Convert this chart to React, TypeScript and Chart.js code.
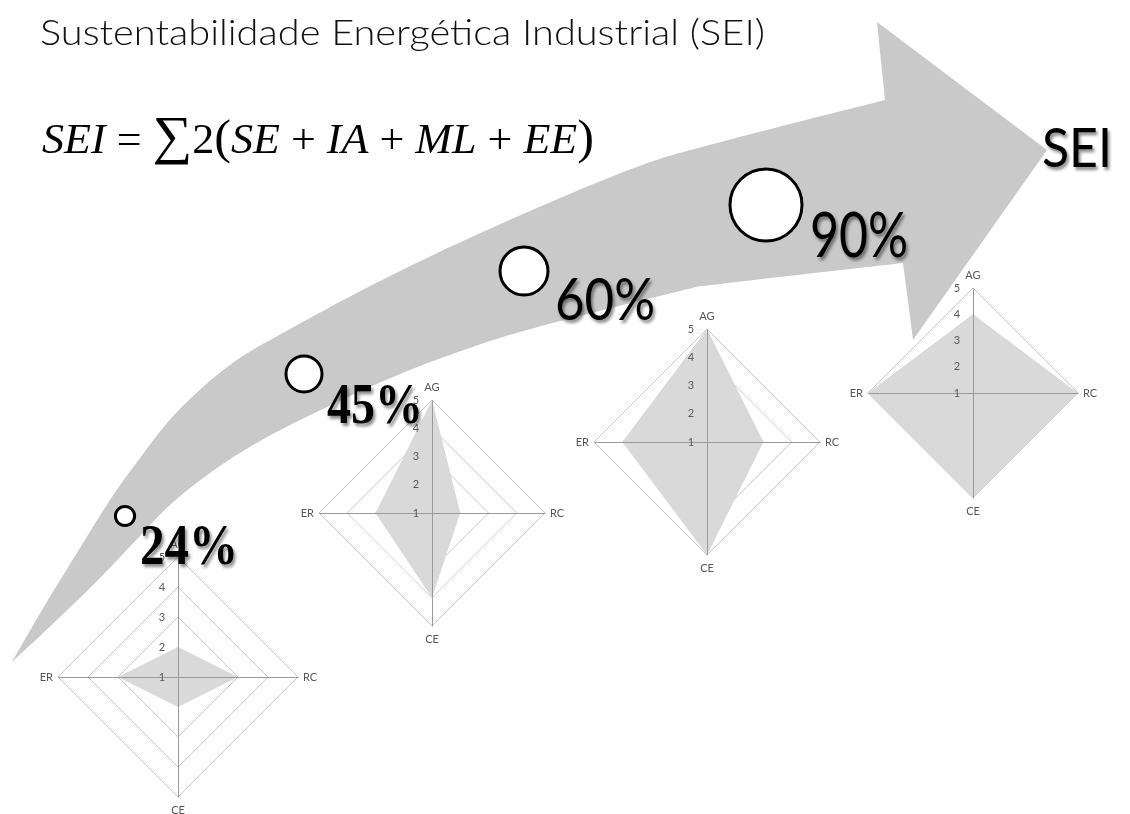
import React, { useEffect, useRef } from "react";
import { Chart, registerables } from "chart.js";

Chart.register(...registerables);

// ---------------- data ----------------
const AXIS_LABELS = ["AG", "RC", "CE", "ER"];
const TICK_VALUES = [1, 2, 3, 4, 5];
const STAGE_1 = [2, 3, 2, 3];
const STAGE_2 = [5, 2, 4, 3];
const STAGE_3 = [5, 3, 5, 4];
const STAGE_4 = [4, 5, 5, 5];
const STAGE_SERIES = [STAGE_1, STAGE_2, STAGE_3, STAGE_4];
const STAGE_PERCENT = [24, 45, 60, 90];
const TITLE = "Sustentabilidade Energética Industrial (SEI)";
const END_LABEL = "SEI";

// ---------------- layout & style ----------------
const W = 1130;
const H = 814;
const M = 30; // margin around each radar drawing area
const RADAR_BOX = [
  { cx: 178, cy: 677, r: 120 },
  { cx: 432, cy: 513, r: 113 },
  { cx: 707, cy: 442, r: 113 },
  { cx: 973, cy: 393, r: 105 },
];
const BUBBLE_AT = [
  { x: 125, y: 516 },
  { x: 304, y: 374 },
  { x: 524, y: 271 },
  { x: 766, y: 205 },
];
const PCT_TEXT = [
  { x: 140, y: 564, w: 98, size: 56, serif: true },
  { x: 327, y: 423, w: 96, size: 56, serif: true },
  { x: 555, y: 320, w: 100, size: 58, serif: false },
  { x: 810, y: 257, w: 98, size: 61, serif: false },
];
const ARROW_UPPER: number[][] = [
  [12, 662], [45, 605], [80, 548], [110, 500], [140, 458], [177, 412], [230, 365],
  [290, 329], [390, 276], [505, 222], [634, 168], [717, 143], [885, 100],
];
const ARROW_HEAD: number[][] = [[877, 22], [1047, 150], [913, 340]];
const ARROW_LOWER: number[][] = [
  [903, 263], [720, 284], [680, 291], [527, 330], [450, 355], [393, 377], [327, 407],
  [260, 441], [210, 473], [170, 505], [140, 536], [103, 575], [60, 617], [12, 662],
];

const ARROW_COLOR = "#c9c9c9";
const FILL_COLOR = "#d9d9d9";
const RING_COLOR = "#c8c8c8";
const AXIS_COLOR = "#9a9a9a";
const LABEL_COLOR = "#595959";
const SMALL_FONT = "11px Lato, 'Open Sans', sans-serif";

// Catmull-Rom smoothing through points
function smoothThrough(ctx: CanvasRenderingContext2D, pts: number[][], moveFirst: boolean) {
  if (moveFirst) ctx.moveTo(pts[0][0], pts[0][1]);
  else ctx.lineTo(pts[0][0], pts[0][1]);
  for (let i = 0; i < pts.length - 1; i++) {
    const p0 = pts[i - 1] || pts[i];
    const p1 = pts[i];
    const p2 = pts[i + 1];
    const p3 = pts[i + 2] || p2;
    const c1x = p1[0] + (p2[0] - p0[0]) / 6;
    const c1y = p1[1] + (p2[1] - p0[1]) / 6;
    const c2x = p2[0] - (p3[0] - p1[0]) / 6;
    const c2y = p2[1] - (p3[1] - p1[1]) / 6;
    ctx.bezierCurveTo(c1x, c1y, c2x, c2y, p2[0], p2[1]);
  }
}

const arrowPlugin = {
  id: "arrowBand",
  beforeDatasetsDraw(chart: any) {
    const ctx = chart.ctx as CanvasRenderingContext2D;
    const { x, y } = chart.scales;
    const P = (p: number[]) => [x.getPixelForValue(p[0]), y.getPixelForValue(p[1])];
    ctx.save();
    ctx.fillStyle = ARROW_COLOR;
    ctx.beginPath();
    smoothThrough(ctx, ARROW_UPPER.map(P), true);
    ARROW_HEAD.map(P).forEach((p) => ctx.lineTo(p[0], p[1]));
    smoothThrough(ctx, ARROW_LOWER.map(P), false);
    ctx.closePath();
    ctx.fill();
    ctx.restore();
  },
};

const radarDecor = {
  id: "radarDecor",
  afterDatasetsDraw(chart: any) {
    const s = chart.scales.r;
    const ctx = chart.ctx as CanvasRenderingContext2D;
    const cx = s.xCenter;
    const cy = s.yCenter;
    const outer = s.getDistanceFromCenterForValue(s.max);
    ctx.save();
    ctx.strokeStyle = AXIS_COLOR;
    ctx.lineWidth = 1;
    AXIS_LABELS.forEach((_, i) => {
      const p = s.getPointPosition(i, outer);
      ctx.beginPath();
      ctx.moveTo(Math.round(cx) + 0.5, Math.round(cy) + 0.5);
      ctx.lineTo(Math.round(p.x) + 0.5, Math.round(p.y) + 0.5);
      ctx.stroke();
    });
    ctx.font = SMALL_FONT;
    ctx.fillStyle = LABEL_COLOR;
    ctx.textAlign = "center";
    ctx.textBaseline = "middle";
    TICK_VALUES.forEach((v) => {
      ctx.fillText(String(v), cx - 16, cy - s.getDistanceFromCenterForValue(v));
    });
    const place: { gap: number; align: CanvasTextAlign; base: CanvasTextBaseline }[] = [
      { gap: 9, align: "center", base: "alphabetic" },
      { gap: 5, align: "left", base: "middle" },
      { gap: 8, align: "center", base: "top" },
      { gap: 5, align: "right", base: "middle" },
    ];
    AXIS_LABELS.forEach((lab, i) => {
      const pl = place[i % place.length];
      const p = s.getPointPosition(i, outer + pl.gap);
      ctx.textAlign = pl.align;
      ctx.textBaseline = pl.base;
      ctx.fillText(lab, p.x, p.y);
    });
    ctx.restore();
  },
};

function BackgroundChart() {
  const ref = useRef<HTMLCanvasElement>(null);
  useEffect(() => {
    const chart = new Chart(ref.current as HTMLCanvasElement, {
      type: "bubble",
      data: {
        datasets: [
          {
            data: BUBBLE_AT.map((p, i) => ({ x: p.x, y: p.y, r: STAGE_PERCENT[i] * 0.4 })),
            backgroundColor: "#ffffff",
            borderColor: "#000000",
            borderWidth: 3,
            clip: false,
          },
        ],
      },
      options: {
        animation: false,
        responsive: false,
        devicePixelRatio: 1,
        events: [],
        layout: { padding: 0, autoPadding: false },
        plugins: { legend: { display: false }, tooltip: { enabled: false } },
        scales: {
          x: { type: "linear", display: false, min: 0, max: W, offset: false },
          y: { type: "linear", display: false, min: 0, max: H, reverse: true, offset: false },
        },
      },
      plugins: [arrowPlugin],
    } as any);
    return () => chart.destroy();
  }, []);
  return (
    <canvas ref={ref} width={W} height={H} style={{ position: "absolute", left: 0, top: 0 }} />
  );
}

function RadarChart({ values, box }: { values: number[]; box: { cx: number; cy: number; r: number } }) {
  const ref = useRef<HTMLCanvasElement>(null);
  const size = 2 * (box.r + M);
  useEffect(() => {
    const chart = new Chart(ref.current as HTMLCanvasElement, {
      type: "radar",
      data: {
        labels: AXIS_LABELS,
        datasets: [
          {
            data: values,
            backgroundColor: FILL_COLOR,
            borderWidth: 0,
            pointRadius: 0,
            fill: "start",
          },
        ],
      },
      options: {
        animation: false,
        responsive: false,
        devicePixelRatio: 1,
        events: [],
        layout: { padding: M, autoPadding: false },
        plugins: { legend: { display: false }, tooltip: { enabled: false } },
        scales: {
          r: {
            min: 1,
            max: 5,
            startAngle: 0,
            ticks: { display: false, stepSize: 1 },
            grid: { color: RING_COLOR, lineWidth: 1 },
            angleLines: { display: false },
            pointLabels: { display: false },
          },
        },
      },
      plugins: [radarDecor],
    } as any);
    return () => chart.destroy();
  }, [values]);
  return (
    <canvas
      ref={ref}
      width={size}
      height={size}
      style={{ position: "absolute", left: box.cx - box.r - M, top: box.cy - box.r - M }}
    />
  );
}

const SERIF = "'Liberation Serif', 'Times New Roman', serif";
const SANS = "Lato, 'Open Sans', sans-serif";

function TextLayer() {
  return (
    <svg
      width={W}
      height={H}
      style={{ position: "absolute", left: 0, top: 0, pointerEvents: "none" }}
    >
      <defs>
        <filter id="shadow" x="-20%" y="-30%" width="150%" height="170%">
          <feDropShadow dx="2" dy="3" stdDeviation="1.8" floodColor="#000" floodOpacity="0.45" />
        </filter>
      </defs>
      <text
        x={40}
        y={45}
        fontFamily={SANS}
        fontSize={36}
        fontWeight={300}
        fill="#111"
        textLength={725}
        lengthAdjust="spacingAndGlyphs"
      >
        {TITLE}
      </text>
      <text
        x={42}
        y={153}
        fontFamily={SERIF}
        fontSize={42}
        fill="#000"
        textLength={552}
        lengthAdjust="spacingAndGlyphs"
      >
        <tspan fontStyle="italic">SEI</tspan>
        <tspan>{" = "}</tspan>
        <tspan fontSize={53}>∑</tspan>
        <tspan>2</tspan>
        <tspan fontSize={48}>(</tspan>
        <tspan fontStyle="italic">SE</tspan>
        <tspan>{" + "}</tspan>
        <tspan fontStyle="italic">IA</tspan>
        <tspan>{" + "}</tspan>
        <tspan fontStyle="italic">ML</tspan>
        <tspan>{" + "}</tspan>
        <tspan fontStyle="italic">EE</tspan>
        <tspan fontSize={48}>)</tspan>
      </text>
      {STAGE_PERCENT.map((p, i) => {
        const t = PCT_TEXT[i];
        return (
          <text
            key={i}
            x={t.x}
            y={t.y}
            fontFamily={t.serif ? SERIF : SANS}
            fontWeight={t.serif ? 700 : 400}
            fontSize={t.size}
            fill="#000"
            textLength={t.w}
            lengthAdjust="spacingAndGlyphs"
            filter="url(#shadow)"
          >
            {p + "%"}
          </text>
        );
      })}
      <text
        x={1042}
        y={167}
        fontFamily={SANS}
        fontSize={54}
        fill="#000"
        textLength={70}
        lengthAdjust="spacingAndGlyphs"
        filter="url(#shadow)"
      >
        {END_LABEL}
      </text>
    </svg>
  );
}

export default function App() {
  return (
    <div
      style={{
        position: "absolute",
        left: 0,
        top: 0,
        width: W,
        height: H,
        overflow: "hidden",
        background: "#ffffff",
      }}
    >
      <BackgroundChart />
      {STAGE_SERIES.map((s, i) => (
        <RadarChart key={i} values={s} box={RADAR_BOX[i]} />
      ))}
      <TextLayer />
    </div>
  );
}
